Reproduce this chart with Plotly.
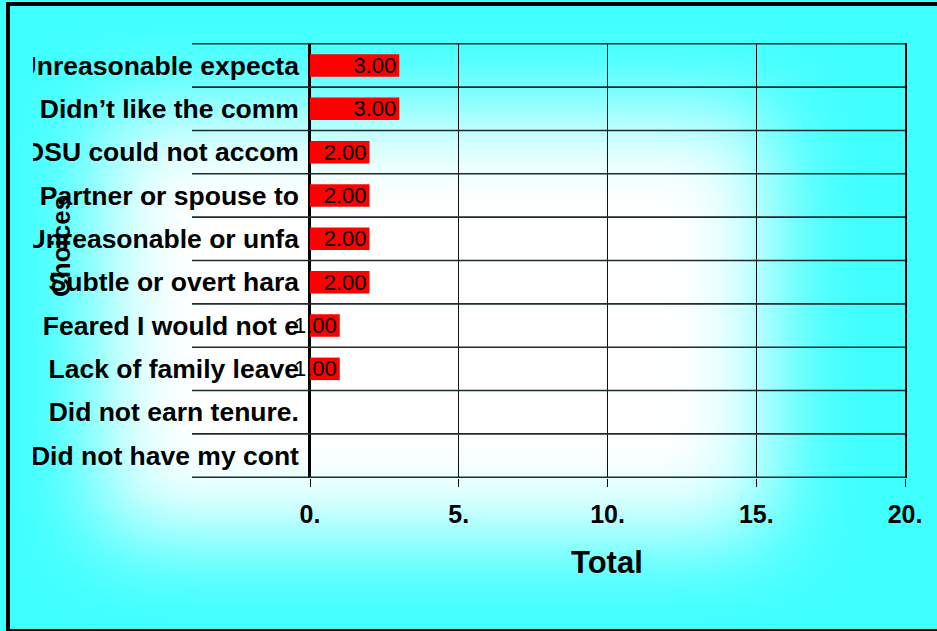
import base64
import plotly.graph_objects as go

# ---- data -------------------------------------------------------------
categories = [
    "Unreasonable expecta",
    "Didn’t like the comm",
    "OSU could not accom",
    "Partner or spouse to",
    "Unreasonable or unfa",
    "Subtle or overt hara",
    "Feared I would not e",
    "Lack of family leave",
    "Did not earn tenure.",
    "Did not have my cont",
]
totals = [3, 3, 2, 2, 2, 2, 1, 1, 0, 0]
x_tick_values = [0, 5, 10, 15, 20]
x_tick_labels = ["0.", "5.", "10.", "15.", "20."]

# ---- geometry helpers (pixels -> paper fractions) ---------------------
FIG_W, FIG_H = 937, 631
PLOT_L, PLOT_R, PLOT_T, PLOT_B = 310, 905, 43, 478
PW = PLOT_R - PLOT_L
PH = PLOT_B - PLOT_T


def px_x(p):
    return (p - PLOT_L) / PW


def px_y(p):
    return (PLOT_B - p) / PH


FONT = "Liberation Sans, Arial, sans-serif"
CYAN = "#3FFFFF"


def backdrop(vx, vy, vw, vh):
    """Cyan page with a soft white glow, as an SVG data URI (any viewBox window)."""
    svg = (
        f'<svg xmlns="http://www.w3.org/2000/svg" width="{vw}" height="{vh}" '
        f'viewBox="{vx} {vy} {vw} {vh}" preserveAspectRatio="none">'
        '<defs><filter id="soft" x="-60%" y="-60%" width="220%" height="220%">'
        '<feGaussianBlur stdDeviation="46"/></filter></defs>'
        f'<rect x="-300" y="-300" width="1600" height="1300" fill="{CYAN}"/>'
        '<rect x="100" y="112" width="670" height="423" fill="#FFFFFF" filter="url(#soft)"/>'
        "</svg>"
    )
    return "data:image/svg+xml;base64," + base64.b64encode(svg.encode()).decode()


fig = go.Figure(
    go.Bar(
        x=totals,
        y=categories,
        orientation="h",
        width=0.52,
        marker=dict(color="#FF0000", line=dict(width=0)),
        text=[f"{v:.2f}" if v else "" for v in totals],
        textposition="inside",
        insidetextanchor="end",
        constraintext="none",
        textfont=dict(family=FONT, size=22, color="black"),
        cliponaxis=False,
        hoverinfo="skip",
    )
)

# row separators reaching into the label column
shapes = [
    dict(
        type="line", xref="paper", yref="y",
        x0=px_x(192), x1=1, y0=k - 0.5, y1=k - 0.5,
        line=dict(color="#1c2b2b", width=1.6), layer="above",
    )
    for k in range(len(categories) + 1)
]
# page frame
shapes.append(
    dict(
        type="rect", xref="paper", yref="paper",
        x0=px_x(8), x1=px_x(990), y0=px_y(4), y1=px_y(631),
        line=dict(color="black", width=4), fillcolor="rgba(0,0,0,0)", layer="above",
    )
)

images = [
    dict(
        source=backdrop(0, 0, FIG_W, FIG_H), xref="paper", yref="paper",
        x=px_x(0), y=px_y(0), sizex=FIG_W / PW, sizey=FIG_H / PH,
        xanchor="left", yanchor="top", sizing="stretch", layer="below",
    ),
    # left strip trimming the long labels
    dict(
        source=backdrop(10, 40, 23, 445), xref="paper", yref="paper",
        x=px_x(10), y=px_y(40), sizex=23 / PW, sizey=445 / PH,
        xanchor="left", yanchor="top", sizing="stretch", layer="above",
    ),
]

fig.update_layout(
    width=FIG_W,
    height=FIG_H,
    autosize=False,
    margin=dict(l=PLOT_L, r=FIG_W - PLOT_R, t=PLOT_T, b=FIG_H - PLOT_B, pad=0),
    paper_bgcolor=CYAN,
    plot_bgcolor="rgba(0,0,0,0)",
    showlegend=False,
    shapes=shapes,
    images=images,
    annotations=[
        dict(
            text="Choices", xref="paper", yref="paper",
            x=px_x(61), y=px_y(247), xanchor="center", yanchor="middle",
            showarrow=False, textangle=-90,
            font=dict(family=FONT, size=26, color="black", weight="bold"),
        ),
        dict(
            text="Total", xref="paper", yref="paper",
            x=px_x(607), y=px_y(562), xanchor="center", yanchor="middle",
            showarrow=False,
            font=dict(family=FONT, size=31, color="black", weight="bold"),
        ),
    ],
    xaxis=dict(
        range=[0, 20],
        tickmode="array",
        tickvals=x_tick_values,
        ticktext=x_tick_labels,
        showgrid=True,
        gridcolor="#111111",
        gridwidth=1.3,
        zeroline=True,
        zerolinecolor="black",
        zerolinewidth=1.5,
        ticks="outside",
        ticklen=8,
        tickwidth=1.3,
        tickcolor="black",
        ticklabelstandoff=6,
        tickfont=dict(family=FONT, size=25, color="black", weight="bold"),
        showline=False,
        fixedrange=True,
    ),
    yaxis=dict(
        type="category",
        autorange="reversed",
        showgrid=False,
        ticks="",
        ticklabelstandoff=4,
        tickfont=dict(family=FONT, size=26.5, color="black", weight="bold"),
        showline=True,
        mirror=True,
        linecolor="black",
        linewidth=1.5,
        fixedrange=True,
    ),
)

fig.write_html("out.html", config={"displayModeBar": False})
